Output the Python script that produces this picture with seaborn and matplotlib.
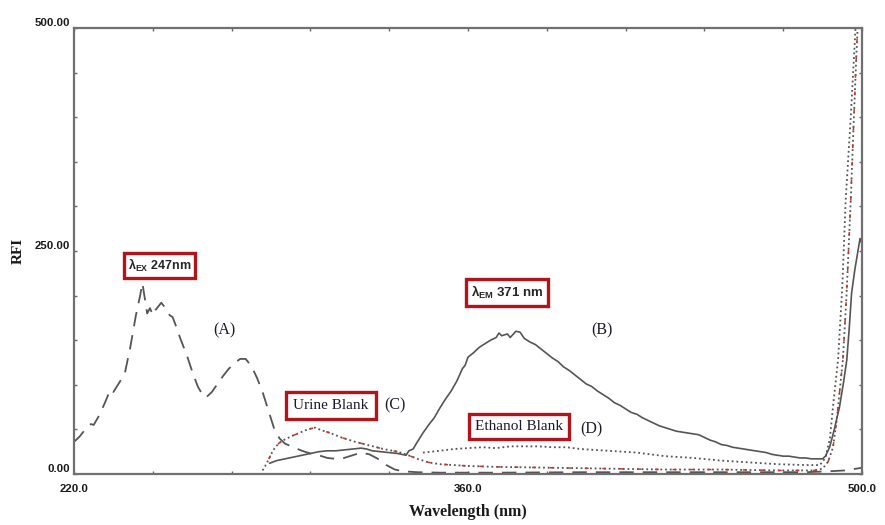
import numpy as np
import pandas as pd
import matplotlib
matplotlib.use("Agg")
import matplotlib.pyplot as plt
import seaborn as sns
from matplotlib.ticker import FixedLocator, NullFormatter

# ---------------- data ----------------
# (A) excitation spectrum (long dashes)
a_wl = [220, 222, 224, 226, 227, 229, 231, 233, 234, 236, 238, 240, 242, 243.5, 244.3,
        245, 246, 247, 248, 249, 251, 252, 254, 255, 256, 258, 260, 262, 264, 266, 267,
        269, 271, 273, 275, 277, 279, 281, 283, 285, 287, 289, 291, 293, 295, 298, 301,
        304, 307, 310, 313, 316, 319, 322, 325, 328, 331, 334, 337, 342, 350, 370, 400,
        430, 460, 480, 488, 494, 498, 500]
a_rfi = [36, 42, 50, 56, 55, 66, 80, 95, 92, 102, 112, 142, 178, 200, 214,
         200, 180, 186, 178, 184, 192, 188, 178, 176, 168, 150, 134, 115, 98, 87, 86,
         92, 101, 110, 118, 124, 129, 129, 121, 108, 92, 72, 52, 40, 34, 30, 26,
         23, 21, 18, 17, 18, 21, 24, 22, 17, 10, 5, 3, 2, 1.5, 1.5, 2,
         2, 2, 2, 3, 4, 6, 7]

# (B) emission spectrum (solid)
b_wl = [289.5, 292, 295, 298, 301, 304, 307, 310, 313, 316, 319, 322, 324, 326, 329, 332,
        335, 338, 339, 340.5, 342, 344, 346, 348, 350, 352, 354, 356, 358, 359, 360, 362,
        364, 366, 368, 370, 371, 372, 374, 375, 377, 378.5, 380, 382, 384, 386, 388, 390,
        392, 394, 396, 398, 400, 402, 404, 406, 408, 410, 412, 414, 416, 418, 420, 422,
        424, 426, 428, 430, 432, 434, 436, 438, 440, 442, 444, 446, 448, 450, 452, 454,
        456, 458, 460, 462, 464, 466, 468, 470, 472, 474, 476, 478, 480, 482, 484, 486,
        487, 488.5, 490, 492, 493.5, 494.6, 495.5, 496.3, 497.5, 499.3, 500]
b_rfi = [12, 15, 17, 19, 21, 23, 25, 26, 26, 27, 28, 29, 28, 26, 25, 24,
         23, 21, 26, 28, 36, 46, 55, 63, 74, 84, 93, 104, 118, 122, 131, 136,
         142, 146, 150, 153, 158, 155, 157, 153, 160, 159, 152, 148, 145, 140, 135, 130,
         126, 120, 116, 111, 106, 101, 98, 93, 89, 85, 80, 77, 73, 69, 67, 63,
         60, 57, 54, 52, 50, 48, 47, 46, 45, 44, 41, 38, 36, 33, 32, 30,
         29, 28, 27, 26, 25, 24, 22, 21, 20, 20, 19, 18, 18, 17, 17, 17,
         20, 30, 48, 75, 104, 128, 165, 203, 230, 264, 258]

# (C) urine blank (dotted with red)
c_wl = [287, 288.5, 290, 291.5, 293, 294.5, 297, 300, 303, 305.6, 308, 311, 315, 320,
        325, 330, 335, 338, 342, 346, 350, 360, 370, 390, 410, 430, 450, 470, 483, 486,
        488, 489.7, 491, 493.2, 494.5, 496, 497, 498, 498.6]
c_rfi = [4, 12, 22, 30, 35, 38, 42, 46, 50, 52, 49, 46, 41, 36,
         32, 28, 25, 22, 17, 13, 11, 9, 8, 7, 6, 5, 5, 4, 4, 6,
         14, 30, 60, 128, 200, 307, 390, 470, 510]

# (D) ethanol blank (dotted)
d_wl = [344, 350, 355, 360, 365, 370, 375, 380, 385, 390, 395, 400, 410, 420, 430, 440,
        450, 460, 470, 480, 485, 487, 488.6, 490, 491.5, 493, 494.2, 496, 497.7, 498.2]
d_rfi = [24, 26, 28, 29, 30, 29, 31, 31, 31, 30, 30, 28, 26, 24, 20, 18,
         15, 13, 11, 10, 10, 18, 40, 85, 128, 210, 307, 400, 500, 530]

x_ticks = [220, 360, 500]
x_tick_labels = ["220.0", "360.0", "500.0"]
y_ticks = [0, 250, 500]
y_tick_labels = ["0.00", "250.00", "500.00"]

# ---------------- styling ----------------
sns.set_theme(style="white")
plt.rcParams['font.family'] = ['Liberation Sans', 'DejaVu Sans']
plt.rcParams['mathtext.fontset'] = 'custom'
plt.rcParams['mathtext.rm'] = 'Liberation Sans'
plt.rcParams['mathtext.bf'] = 'Liberation Sans:bold'
plt.rcParams['mathtext.it'] = 'Liberation Sans:italic'

fig = plt.figure(figsize=(8.85, 5.25), dpi=100)
ax = fig.add_axes([74 / 885, 1 - 474 / 525, (862 - 74) / 885, (474 - 28) / 525])

line_col = "#555555"
red = "#b3141c"

sns.lineplot(x=a_wl, y=a_rfi, ax=ax, color=line_col, lw=1.3,
             linestyle=(0, (8, 5)), sort=False, estimator=None)
sns.lineplot(x=b_wl, y=b_rfi, ax=ax, color=line_col, lw=1.2,
             sort=False, estimator=None)
sns.lineplot(x=c_wl, y=c_rfi, ax=ax, color=line_col, lw=1.3,
             linestyle=(0, (1, 1.6)), sort=False, estimator=None)
sns.lineplot(x=c_wl, y=c_rfi, ax=ax, color="#c0392b", lw=1.1,
             linestyle=(3, (2.5, 9)), sort=False, estimator=None)
sns.lineplot(x=d_wl, y=d_rfi, ax=ax, color=line_col, lw=1.3,
             linestyle=(0, (1, 1.6)), sort=False, estimator=None)

ax.set_xlim(220, 500)
ax.set_ylim(0, 500)

ax.xaxis.set_major_locator(FixedLocator(x_ticks))
ax.set_xticklabels(x_tick_labels)
ax.yaxis.set_major_locator(FixedLocator(y_ticks))
ax.set_yticklabels(y_tick_labels)
ax.xaxis.set_minor_locator(FixedLocator(list(np.arange(220, 501, 28))))
ax.yaxis.set_minor_locator(FixedLocator(list(np.arange(0, 501, 50))))
ax.xaxis.set_minor_formatter(NullFormatter())
ax.yaxis.set_minor_formatter(NullFormatter())

ax.tick_params(which="both", direction="in", length=2.5, width=1.0, color="#666666",
               top=True, right=True, bottom=True, left=True)
ax.tick_params(axis="x", which="major", pad=7, labelsize=8.2)
ax.tick_params(axis="y", which="major", pad=3, labelsize=8.2)
for lbl in ax.get_xticklabels() + ax.get_yticklabels():
    lbl.set_fontweight("bold")
    lbl.set_color("#1a1a1a")
for lbl in ax.get_yticklabels():
    lbl.set_verticalalignment("bottom")

for sp in ax.spines.values():
    sp.set_visible(True)
    sp.set_color("#707070")
    sp.set_linewidth(1.6)

ax.set_xlabel("Wavelength (nm)", fontfamily="Liberation Serif", fontweight="bold",
              fontsize=11.5, color="#1a1a1a")
ax.xaxis.set_label_coords(0.5, -0.068)
ax.set_ylabel("RFI", fontfamily="Liberation Serif", fontweight="bold",
              fontsize=11, color="#1a1a1a")
ax.yaxis.set_label_coords(-0.062, 0.5)

box = dict(boxstyle="square,pad=0.3", fc="white", ec=red, lw=2.4)
ax.text(250.4, 234, "λ$_{\\mathbf{EX}}$ 247nm", fontsize=9, fontweight="bold",
        ha="center", va="center", bbox=box, zorder=5)
box_em = dict(boxstyle="square,pad=0.35", fc="white", ec=red, lw=2.4)
ax.text(373.8, 203.5, "λ$_{\\mathbf{EM}}$ 371 nm", fontsize=9.5, fontweight="bold",
        ha="center", va="center", bbox=box_em, zorder=5)
box2 = dict(boxstyle="square,pad=0.45", fc="white", ec=red, lw=2.4)
ax.text(311.3, 77, "Urine Blank", fontsize=11, fontfamily="Liberation Serif",
        ha="center", va="center", bbox=box2, zorder=5, color="#1a1a2a")
box3 = dict(boxstyle="square,pad=0.4", fc="white", ec=red, lw=2.4)
ax.text(378.1, 53.3, "Ethanol Blank", fontsize=11, fontfamily="Liberation Serif",
        ha="center", va="center", bbox=box3, zorder=5, color="#1a1a2a")

for (x, y, s) in [(273.6, 161, "(A)"), (407.6, 161, "(B)"), (334, 77, "(C)"), (404, 50, "(D)")]:
    ax.text(x, y, s, fontsize=11.5, fontfamily="Liberation Serif", ha="center",
            va="center", color="#1a1a2a")

fig.savefig("out.png", dpi=100)
